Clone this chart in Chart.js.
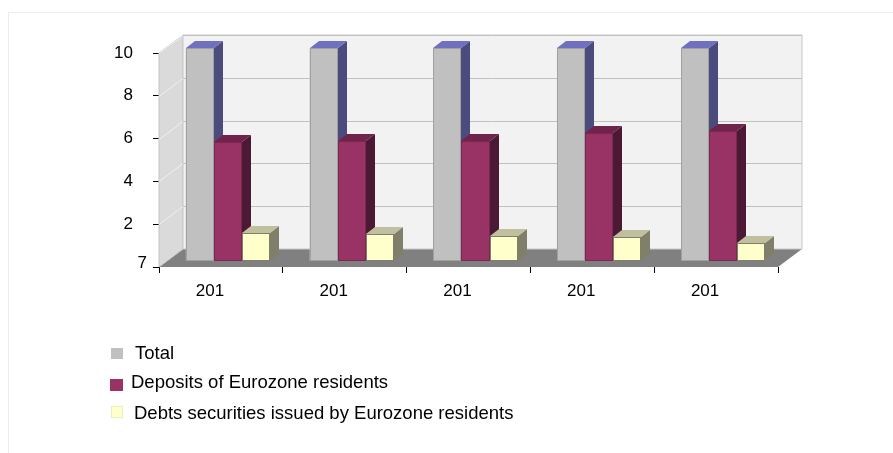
<!DOCTYPE html>
<html>
<head>
<meta charset="utf-8">
<script src="https://cdn.jsdelivr.net/npm/chart.js@4/dist/chart.umd.min.js"></script>
<style>
  html, body { margin: 0; padding: 0; background: #fff; overflow: hidden; }
  #frame { position: absolute; left: 8px; top: 12px; width: 2000px; height: 2000px; border: 1px solid #ededed; }
  #wrap { position: absolute; left: 0; top: 0; width: 893px; height: 453px; }
  .leg { position: absolute; font-family: "Liberation Sans", Arial, sans-serif; font-size: 18.5px; color: #000; white-space: nowrap; }
  .sw { position: absolute; }
</style>
</head>
<body>
<div id="frame"></div>
<div id="wrap"><canvas id="chart" width="893" height="453"></canvas></div>
<div id="legend"></div>
<script>
const categories = ['201', '201', '201', '201', '201'];
const totalValues = [9.95, 9.95, 9.95, 9.95, 9.95];
const depositValues = [5.54, 5.62, 5.62, 5.99, 6.07];
const debtValues = [1.33, 1.24, 1.17, 1.10, 0.83];
const yTickLabels = ['7', '2', '4', '6', '8', '10'];
const seriesNames = ['Total', 'Deposits of Eurozone residents', 'Debts securities issued by Eurozone residents'];

// front / side / top colours per series
const faces = [
    { front: '#c0c0c0', side: '#4b4b7d', top: '#7070c0', edge: '#a0a0a0' },
    { front: '#993366', side: '#4b1934', top: '#70244b', edge: '#7a2850' },
    { front: '#ffffcc', side: '#80806a', top: '#c0c0a0', edge: '#80806a' }
];

const WALL = { x: 24, y: -18 };   // depth of the box
const SHIFT = { x: 7, y: -6 };    // bars stand a bit behind the front edge
const BAR = { x: 9, y: -7 };      // depth of each bar

function poly(ctx, pts, fill, stroke) {
    ctx.beginPath();
    ctx.moveTo(pts[0][0], pts[0][1]);
    for (let i = 1; i < pts.length; i++) ctx.lineTo(pts[i][0], pts[i][1]);
    ctx.closePath();
    if (fill) { ctx.fillStyle = fill; ctx.fill(); }
    if (stroke) { ctx.strokeStyle = stroke; ctx.lineWidth = 1; ctx.stroke(); }
}

const box3d = {
    id: 'box3d',
    beforeDatasetsDraw(chart) {
        const { ctx, chartArea: a, scales: { y } } = chart;
        const dx = WALL.x, dy = WALL.y;
        ctx.save();
        // floor
        poly(ctx, [[a.left, a.bottom], [a.right, a.bottom], [a.right + dx, a.bottom + dy], [a.left + dx, a.bottom + dy]], '#808080');
        // left wall
        poly(ctx, [[a.left, a.top], [a.left + dx, a.top + dy], [a.left + dx, a.bottom + dy], [a.left, a.bottom]], '#dadada', '#c4c4c4');
        // back wall
        poly(ctx, [[a.left + dx, a.top + dy], [a.right + dx, a.top + dy], [a.right + dx, a.bottom + dy], [a.left + dx, a.bottom + dy]], '#f2f2f2', '#c8c8c8');
        // gridlines on both walls
        y.ticks.forEach(t => {
            if (t.value === y.min) return;
            const py = Math.round(y.getPixelForValue(t.value)) + 0.5;
            ctx.lineWidth = 1;
            ctx.strokeStyle = '#c0c0c0';
            ctx.beginPath();
            ctx.moveTo(a.left + dx, py + dy);
            ctx.lineTo(a.right + dx, py + dy);
            ctx.stroke();
            ctx.strokeStyle = '#f0f0f0';
            ctx.beginPath();
            ctx.moveTo(a.left, py);
            ctx.lineTo(a.left + dx, py + dy);
            ctx.stroke();
        });
        ctx.restore();
        ctx.save();
        ctx.translate(SHIFT.x, SHIFT.y);
    },
    afterDatasetsDraw(chart) {
        const { ctx } = chart;
        const metas = chart.data.datasets.map((d, i) => chart.getDatasetMeta(i));
        // paint each group left to right so the next bar hides the previous side
        categories.forEach((c, j) => {
            metas.forEach((meta, i) => {
                const bar = meta.data[j];
                const f = faces[i];
                const l = Math.round(bar.x - bar.width / 2), r = Math.round(bar.x + bar.width / 2);
                const t = Math.round(Math.min(bar.y, bar.base)), b = Math.round(Math.max(bar.y, bar.base));
                poly(ctx, [[r, t], [r + BAR.x, t + BAR.y], [r + BAR.x, b + BAR.y], [r, b]], f.side);
                poly(ctx, [[l, t], [l + BAR.x, t + BAR.y], [r + BAR.x, t + BAR.y], [r, t]], f.top);
                ctx.fillStyle = f.front;
                ctx.fillRect(l, t, r - l, b - t);
                ctx.strokeStyle = f.edge;
                ctx.lineWidth = 1;
                ctx.strokeRect(l + 0.5, t + 0.5, r - l - 1, b - t - 1);
            });
        });
        ctx.restore();
    },
    afterDraw(chart) {
        const { ctx, scales: { y } } = chart;
        ctx.save();
        ctx.font = '17px "Liberation Sans", Arial, sans-serif';
        ctx.fillStyle = '#000';
        ctx.textAlign = 'right';
        ctx.textBaseline = 'middle';
        ctx.fillText(yTickLabels[0], 147, y.getPixelForValue(0) - 4);
        ctx.restore();
    }
};

const tickFont = { family: '"Liberation Sans", Arial, sans-serif', size: 17 };

new Chart(document.getElementById('chart'), {
    type: 'bar',
    data: {
        labels: categories,
        datasets: [
            { label: seriesNames[0], data: totalValues, backgroundColor: faces[0].front },
            { label: seriesNames[1], data: depositValues, backgroundColor: faces[1].front },
            { label: seriesNames[2], data: debtValues, backgroundColor: faces[2].front }
        ]
    },
    options: {
        responsive: false,
        animation: false,
        events: [],
        datasets: { bar: { categoryPercentage: 0.68, barPercentage: 1, clip: false } },
        layout: { padding: { left: 0, right: 115, top: 53, bottom: 0 } },
        plugins: { legend: { display: false }, tooltip: { enabled: false } },
        scales: {
            x: {
                offset: true,
                border: { display: false },
                grid: { offset: true, drawOnChartArea: false, drawTicks: true, tickLength: 6, color: '#000' },
                ticks: { font: tickFont, color: '#000', padding: 8, labelOffset: -11, maxRotation: 0 },
                afterFit(s) { s.height = 453 - 267; }
            },
            y: {
                min: 0,
                max: 10,
                border: { display: false },
                grid: { drawOnChartArea: false, drawTicks: true, tickLength: 6, color: '#000' },
                ticks: {
                    stepSize: 2, font: tickFont, color: '#000', padding: 20,
                    callback: (v, i) => i === 0 ? '' : yTickLabels[i]
                },
                afterFit(s) { s.width = 159; }
            }
        }
    },
    plugins: [box3d]
});

// legend rows
const legendRows = [
    { sq: [111, 348, 12, 11], text: [135, 353] },
    { sq: [110, 379, 13, 12], text: [131, 382] },
    { sq: [111, 406, 12, 12], text: [134, 413] }
];
const legend = document.getElementById('legend');
seriesNames.forEach((name, i) => {
    const row = legendRows[i];
    const sw = document.createElement('div');
    sw.className = 'sw';
    sw.style.left = row.sq[0] + 'px';
    sw.style.top = row.sq[1] + 'px';
    sw.style.width = row.sq[2] + 'px';
    sw.style.height = row.sq[3] + 'px';
    sw.style.background = faces[i].front;
    if (i === 2) sw.style.boxShadow = 'inset 0 0 0 1px #eeeebb';
    legend.appendChild(sw);
    const tx = document.createElement('div');
    tx.className = 'leg';
    tx.textContent = name;
    tx.style.left = row.text[0] + 'px';
    tx.style.top = (row.text[1] - 11) + 'px';
    tx.style.lineHeight = '22px';
    legend.appendChild(tx);
});
</script>
</body>
</html>
